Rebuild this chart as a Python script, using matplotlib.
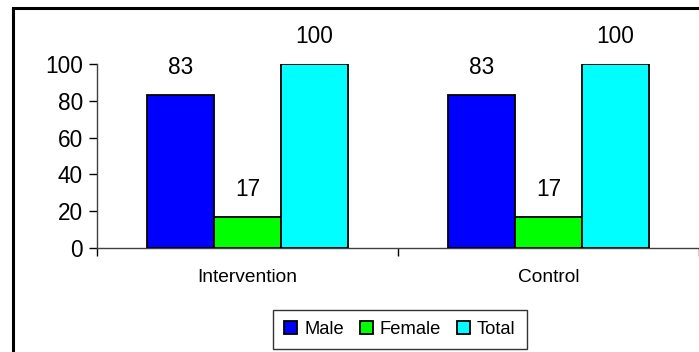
import numpy as np
import matplotlib.pyplot as plt
from matplotlib.lines import Line2D

plt.rcParams['font.family'] = ['Liberation Sans', 'DejaVu Sans']

groups = ['Intervention', 'Control']
series = ['Male', 'Female', 'Total']
values = {
    'Male': [83, 83],
    'Female': [17, 17],
    'Total': [100, 100],
}
colors = {'Male': '#0000ff', 'Female': '#00ff00', 'Total': '#00ffff'}

fig = plt.figure(figsize=(6.99, 3.52), dpi=100)
ax = fig.add_axes([97 / 699, 104 / 352, 1 - 97 / 699, 184 / 352])

x = np.arange(len(groups))
w = 1 / 4.5
for i, s in enumerate(series):
    pos = x + (i - 1) * w
    ax.bar(pos, values[s], width=w, color=colors[s], edgecolor='black',
           linewidth=1.3, label=s, zorder=3)
    for xp, v in zip(pos, values[s]):
        ax.annotate(str(v), (xp, v), xytext=(0, 11.5), textcoords='offset points',
                    ha='center', va='bottom', fontsize=16.3)

ax.set_xlim(-0.5, 1.5)
ax.set_ylim(0, 100)
ax.set_yticks(np.arange(0, 101, 20))
ax.tick_params(axis='y', labelsize=16.3, length=6, width=1, pad=4)

# category labels between boundary ticks
ax.set_xticks([-0.5, 0.5, 1.5])
ax.set_xticklabels([])
ax.set_xticks(x, minor=True)
ax.set_xticklabels(groups, minor=True, fontsize=13.8)
ax.tick_params(axis='x', which='major', length=6, width=1, direction='out')
ax.tick_params(axis='x', which='minor', length=0, pad=15)

for side in ['top', 'right']:
    ax.spines[side].set_visible(False)
for side in ['left', 'bottom']:
    ax.spines[side].set_color('#404040')
    ax.spines[side].set_linewidth(1)
ax.spines['bottom'].set_clip_on(False)

leg = fig.legend(loc='lower center', bbox_to_anchor=(400 / 699, 3 / 352), ncol=3,
                 fontsize=13.2, frameon=True, fancybox=False, edgecolor='black',
                 handlelength=0.7, handleheight=0.7, handletextpad=0.4,
                 columnspacing=0.85, borderpad=0.6, borderaxespad=0)
leg.get_frame().set_linewidth(1)

# outer chart frame (left and top edges)
fig.add_artist(Line2D([13 / 699, 13 / 699], [0, 1 - 8 / 352], color='black', linewidth=2.2))
fig.add_artist(Line2D([13 / 699, 1], [1 - 8 / 352, 1 - 8 / 352], color='black', linewidth=2.2))

fig.savefig('out.png', dpi=100)
